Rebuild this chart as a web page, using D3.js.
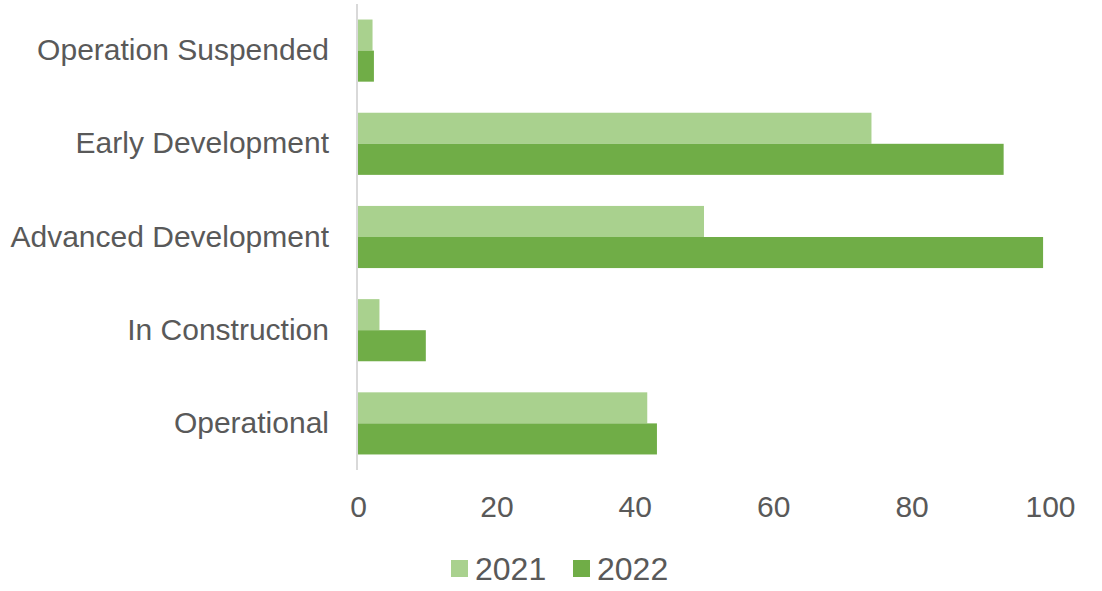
<!DOCTYPE html>
<html>
<head>
<meta charset="utf-8">
<script src="https://cdn.jsdelivr.net/npm/d3@7"></script>
<style>
	body { margin: 0; background: #fff; }
	text { font-family: 'Liberation Sans', Arial, sans-serif; fill: #595959; }
</style>
</head>
<body>
<div id="chart"></div>
<script>
const categories = ['Operation Suspended', 'Early Development', 'Advanced Development', 'In Construction', 'Operational'];
const seriesNames = ['2021', '2022'];
const values2021 = [2.1, 74.2, 50, 3.1, 41.8];
const values2022 = [2.3, 93.3, 99, 9.8, 43.2];
const xTicks = [0, 20, 40, 60, 80, 100];
const colors = ['#a9d18e', '#70ad47'];

const width = 1102,
	height = 591;

const svg = d3.select('#chart').append('svg')
			.attr('width', width)
			.attr('height', height);

let x = d3.scaleLinear()
			.domain([0, 100])
			.range([358, 1050]);

let y = d3.scaleBand()
			.domain(categories)
			.range([4, 470])
			.paddingInner(1 / 3)
			.paddingOuter(1 / 6);

let ySub = d3.scaleBand()
			.domain(seriesNames)
			.range([0, y.bandwidth()]);

let rows = categories.map((c, i) => ({ cat: c, vals: [values2021[i], values2022[i]] }));

let groups = svg.selectAll('.group')
				.data(rows)
				.enter()
				.append('g')
				.attr('class', 'group')
				.attr('transform', (d) => `translate(0, ${y(d.cat)})`);

groups.selectAll('rect')
		.data((d) => d.vals.map((v, k) => ({ v: v, s: seriesNames[k], k: k })))
		.enter()
		.append('rect')
		.attr('x', x(0))
		.attr('y', (d) => ySub(d.s))
		.attr('width', (d) => x(d.v) - x(0))
		.attr('height', ySub.bandwidth())
		.attr('fill', (d) => colors[d.k]);

// category labels
svg.append('g')
	.attr('transform', 'translate(358, 0)')
	.call(d3.axisLeft(y).tickSize(0).tickPadding(29))
	.call((g) => g.select('.domain').remove())
	.selectAll('text')
	.style('font-size', '30px')
	.style('font-family', null)
	.attr('fill', '#595959');

// vertical axis line
svg.append('line')
	.attr('x1', x(0) - 1)
	.attr('x2', x(0) - 1)
	.attr('y1', 4)
	.attr('y2', 470)
	.attr('stroke', '#d9d9d9')
	.attr('stroke-width', 2);

// value axis labels
svg.append('g')
	.attr('transform', 'translate(0, 470)')
	.call(d3.axisBottom(x).tickValues(xTicks).tickSize(0).tickPadding(26))
	.call((g) => g.select('.domain').remove())
	.selectAll('text')
	.style('font-size', '30px')
	.attr('fill', '#595959');

// legend
let legend = svg.append('g')
				.attr('transform', 'translate(451, 0)');

let item = legend.selectAll('.legend-item')
				.data(seriesNames)
				.enter()
				.append('g')
				.attr('class', 'legend-item')
				.attr('transform', (d, i) => `translate(${i * 122}, 0)`);

item.append('rect')
	.attr('y', 560)
	.attr('width', 17)
	.attr('height', 17)
	.attr('fill', (d, i) => colors[i]);

item.append('text')
	.attr('x', 24)
	.attr('y', 568.5)
	.attr('dy', '0.36em')
	.style('font-size', '32px')
	.text((d) => d);
</script>
</body>
</html>
